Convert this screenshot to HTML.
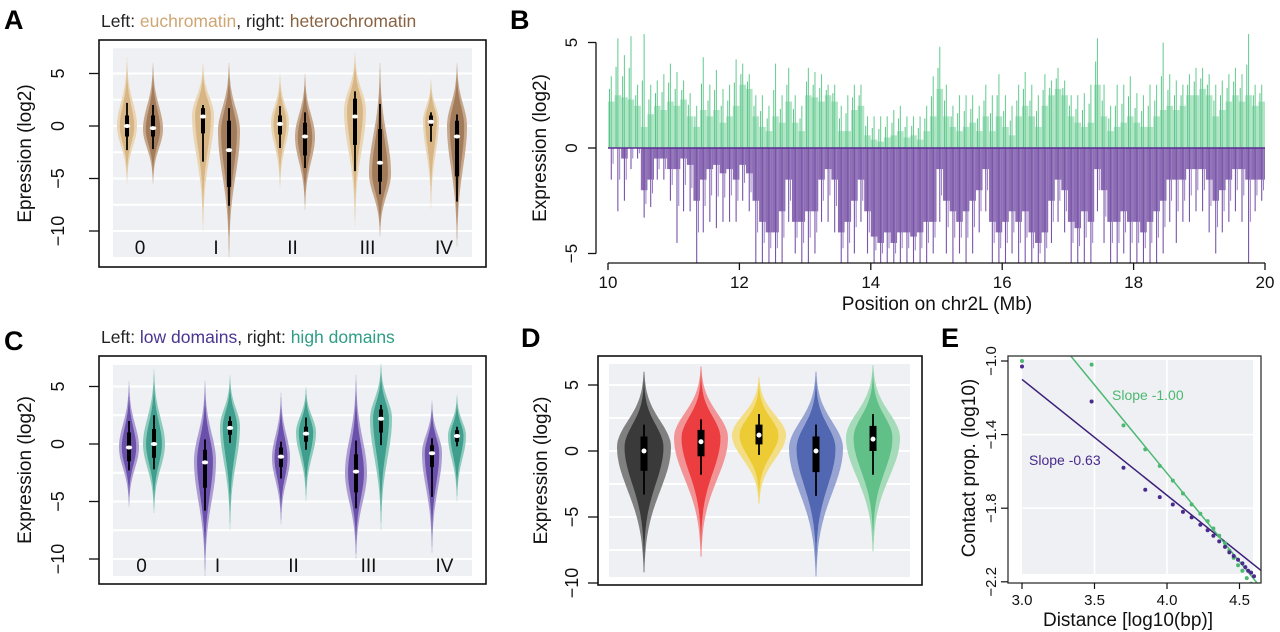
<!DOCTYPE html>
<html><head><meta charset="utf-8"><style>
html,body{margin:0;padding:0;background:#fff;}
svg{display:block;font-family:"Liberation Sans",sans-serif;}
</style></head><body>
<svg id="fig" width="1280" height="632" viewBox="0 0 1280 632" xmlns="http://www.w3.org/2000/svg">
<text x="4" y="29" font-size="27" font-weight="bold">A</text>
<text x="510" y="29" font-size="27" font-weight="bold">B</text>
<text x="4" y="350" font-size="27" font-weight="bold">C</text>
<text x="521" y="347" font-size="27" font-weight="bold">D</text>
<text x="941" y="347" font-size="27" font-weight="bold">E</text>
<text x="101" y="27" font-size="17.5" fill="#222">Left: <tspan fill="#cfa673">euchromatin</tspan>, right: <tspan fill="#8a6242">heterochromatin</tspan></text>
<text x="101" y="343" font-size="17.5" fill="#222">Left: <tspan fill="#4a3590">low domains</tspan>, right: <tspan fill="#2f9e86">high domains</tspan></text>
<g id="layer"></g>
</svg>
<script>
// ---------- Panel A data ----------
const aGroups = ["0","I","II","III","IV"];
const aLo   = [-5.5,-5.5,-10,-12.5,-6,-8,-9.5,-10.5,-8,-11.5];
const aHi   = [6.5,6,6,6,5,5,7,6,4.5,6];
const aMode = [0,-0.3,1,-0.5,0.3,-1,1.5,-4.5,0.5,0];
const aMed  = [0,-0.2,0.9,-2.3,0.2,-1,0.9,-3.5,0.4,-1];
const aQ1   = [-1,-1,-0.7,-5.8,-0.8,-2.8,-1.8,-5.3,0,-4.8];
const aQ3   = [1,1,1.7,0.5,1,0.3,2.6,-0.3,1,0.5];
const aWLo  = [-2.3,-2.2,-3.4,-7.6,-2.1,-4,-4.3,-6.5,-1.5,-7.2];
const aWHi  = [2.2,2,2,1.7,1.9,1.3,3.3,2.1,1.3,1.1];
const aYTicks = [5,0,-5,-10];
// ---------- Panel C data ----------
const cGroups = ["0","I","II","III","IV"];
const cLo   = [-5.5,-6,-11.5,-7.5,-7,-5,-10,-7.5,-9.5,-5];
const cHi   = [5.5,6.5,5.5,6,4.5,5,6,7,3.8,4.3];
const cMode = [-0.3,0,-1.5,1.5,-1.2,1,-2.5,2.2,-0.8,0.7];
const cMed  = [-0.3,0,-1.6,1.4,-1.1,0.9,-2.4,2.2,-0.8,0.7];
const cQ1   = [-1.5,-1.2,-3.8,0.8,-2,0.2,-4.2,1,-2,0.2];
const cQ3   = [1,1.3,-0.5,2,-0.3,1.5,-0.9,3,-0.1,1.2];
const cWLo  = [-2.3,-2.2,-5.8,0.1,-3,-0.5,-5.6,-0.1,-4.6,-0.2];
const cWHi  = [2,2.5,0.4,2.4,0.2,2.3,0.3,3.4,0.5,1.5];
// ---------- Panel D data ----------
const dLo   = [-9.2,-8,-4,-9.5,-7.6];
const dHi   = [6,6.4,5.6,6,6.5];
const dMode = [0.3,1,1.2,0.2,1];
const dMed  = [0,0.7,1.2,0,0.9];
const dQ1   = [-1.5,-0.4,0.5,-1.6,0];
const dQ3   = [1.1,1.6,2,1.1,1.9];
const dWLo  = [-3.3,-1.8,-0.3,-3.4,-1.8];
const dWHi  = [2,2.4,2.8,2,2.8];
// ---------- Panel B data (bins of 0.1 Mb from 10 to 20) ----------
const bStart = 10, bBin = 0.1;
const gBody = [2.2,2.5,2.4,2.3,2.0,1.0,1.6,2.0,1.8,2.2,2.0,2.3,1.5,1.0,1.8,1.5,1.8,1.2,1.5,2.0,3.0,2.8,1.5,1.0,0.8,1.5,1.2,2.2,1.2,0.8,2.5,2.4,2.2,2.5,2.2,0.8,0.8,1.8,2.0,0.6,0.4,0.3,0.5,0.6,0.8,0.5,0.6,0.4,0.8,1.5,2.8,1.5,1.0,0.8,1.0,1.2,0.8,1.5,0.8,1.5,1.0,0.6,1.5,2.0,1.5,1.0,2.0,2.5,2.8,2.5,1.5,1.2,1.0,1.2,3.0,1.5,0.8,1.0,1.2,1.5,1.2,1.0,1.0,1.5,1.8,2.0,1.8,2.0,2.5,2.5,2.8,2.5,1.5,1.8,2.2,2.5,2.2,2.5,2.0,2.2];
const gPeak = [3.4,5.2,4.4,5.3,3.0,5.4,3.0,3.2,3.5,4.0,3.6,3.2,2.6,2.0,4.3,3.0,3.7,2.8,3.0,4.2,4.0,3.5,2.5,2.5,2.0,4.0,2.5,3.8,2.5,2.0,3.8,3.6,3.5,3.0,3.0,2.0,2.5,3.0,3.0,1.5,1.5,1.5,1.5,1.8,2.0,1.5,1.5,1.5,2.0,3.4,4.8,3.0,2.0,2.5,2.5,2.5,2.0,3.0,2.5,3.5,2.5,2.0,3.0,3.6,3.0,2.5,3.5,3.2,3.8,3.2,2.5,2.5,2.6,3.0,5.2,3.0,2.0,3.0,3.0,3.4,2.6,2.5,3.0,3.0,5.0,3.5,3.2,3.0,3.5,3.8,3.8,3.5,3.0,3.2,3.5,3.8,3.5,5.4,3.0,3.0];
const pBody = [0,0,-0.5,0,0,-2.0,-1.5,-0.5,-0.5,-1.0,-1.0,-0.5,-0.8,-2.5,-1.5,-1.0,-0.8,-1.2,-1.0,-1.5,-0.8,-1.2,-2.5,-3.5,-4.0,-4.0,-3.0,-1.5,-3.5,-3.5,-3.0,-3.0,-1.5,-1.0,-1.5,-4.0,-3.5,-2.5,-1.5,-3.0,-4.2,-4.5,-4.0,-4.5,-4.0,-4.0,-4.2,-4.0,-3.5,-3.5,-1.0,-2.5,-3.0,-3.5,-3.0,-2.5,-2.0,-1.0,-3.5,-4.0,-3.5,-3.0,-3.5,-3.0,-4.0,-4.5,-4.0,-2.5,-1.5,-2.0,-3.5,-3.8,-3.0,-3.5,-1.0,-2.0,-3.5,-3.5,-3.0,-3.5,-3.5,-4.0,-3.5,-3.0,-2.5,-1.5,-1.5,-1.5,-1.0,-1.0,-1.0,-1.5,-2.5,-2.0,-1.5,-1.0,-1.0,-1.5,-1.5,-1.5];
const pPeak = [-1.5,-3.0,-2.5,-1.0,-0.5,-3.3,-2.8,-1.5,-1.5,-2.5,-4.5,-3.0,-3.0,-5.5,-4.0,-3.5,-3.8,-3.5,-3.5,-3.5,-2.5,-3.0,-5.5,-5.5,-5.5,-5.5,-5.5,-3.5,-5.0,-5.5,-5.5,-5.0,-3.5,-3.5,-4.0,-5.5,-5.5,-5.0,-3.5,-5.0,-5.5,-5.5,-5.5,-5.5,-5.5,-5.5,-5.5,-5.5,-5.5,-5.0,-3.5,-5.0,-5.5,-5.0,-5.5,-5.0,-4.0,-3.0,-5.5,-5.5,-5.5,-5.0,-5.5,-5.5,-5.5,-5.5,-5.5,-4.5,-3.5,-4.0,-5.5,-5.5,-5.5,-5.5,-3.0,-4.5,-5.5,-5.5,-5.0,-5.5,-5.5,-5.5,-5.5,-5.5,-5.0,-3.5,-4.5,-3.5,-3.5,-3.0,-3.0,-4.0,-5.0,-4.0,-3.5,-3.0,-3.5,-5.5,-3.0,-2.5];
const bXTicks = [10,12,14,16,18,20];
const bYTicks = [5,0,-5];
// ---------- Panel E data ----------
const ePurpleX = [3.0,3.48,3.7,3.85,3.95,4.04,4.11,4.17,4.23,4.28,4.32,4.36,4.40,4.43,4.46,4.49,4.52,4.54,4.56,4.58,4.60];
const ePurpleY = [-1.03,-1.22,-1.58,-1.70,-1.74,-1.78,-1.82,-1.85,-1.89,-1.92,-1.95,-1.98,-2.01,-2.04,-2.06,-2.08,-2.10,-2.12,-2.14,-2.15,-2.17];
const eGreenX = [3.0,3.48,3.7,3.85,3.95,4.04,4.11,4.17,4.23,4.28,4.32,4.36,4.40,4.43,4.46,4.49,4.52,4.55,4.58];
const eGreenY = [-1.0,-1.02,-1.35,-1.48,-1.57,-1.65,-1.72,-1.78,-1.83,-1.87,-1.91,-1.95,-1.99,-2.03,-2.07,-2.11,-2.14,-2.18,-2.21];
const eFitPurple = [-1.10,-0.63]; // intercept at x=3, slope
const eFitGreen = [-0.65,-0.96];  // intercept at x=3, slope
const eXTicks = ["3.0","3.5","4.0","4.5"];
const eYTicks = ["-1.0","-1.4","-1.8","-2.2"];

const NS="http://www.w3.org/2000/svg";
const layer=document.getElementById('layer');
function el(tag,attrs,parent){const e=document.createElementNS(NS,tag);for(const k in attrs)e.setAttribute(k,attrs[k]);(parent||layer).appendChild(e);return e;}
function txt(s,x,y,size,attrs,parent){const t=el('text',Object.assign({x:x,y:y,'font-size':size,fill:'#222'},attrs||{}),parent);t.textContent=s;return t;}
const minus=s=>String(s).replace('-','\u2212');

function violin(g,cx,ys,lo,hi,mode,hw,outer,inner,med,q1,q3,wlo,whi,boxW,dotStyle){
  function pathFor(h,sf){
    const pts=[];const n=90;
    for(let i=0;i<=n;i++){const v=lo+(hi-lo)*i/n;const s=((v>mode)?(hi-mode):(mode-lo))/2.9*sf;const w=h*Math.exp(-0.5*Math.pow((v-mode)/s,2));pts.push([v,w]);}
    let d='';pts.forEach((p,i)=>{d+=(i?'L':'M')+(cx+p[1]).toFixed(1)+','+ys(p[0]).toFixed(1);});
    for(let i=pts.length-1;i>=0;i--){d+='L'+(cx-pts[i][1]).toFixed(1)+','+ys(pts[i][0]).toFixed(1);}
    return d+'Z';
  }
  const o=el('path',{d:pathFor(hw,1),fill:outer},g);
  
  
  const i=el('path',{d:pathFor(hw*0.72,0.85),fill:inner},g);
  
  
  const w=el('line',{x1:cx,x2:cx,y1:ys(wlo),y2:ys(whi),stroke:'#000','stroke-width':1.8},g);
  
  
  const b=el('rect',{x:cx-boxW/2,width:boxW,y:ys(q3),height:ys(q1)-ys(q3),fill:'#000'},g);
  
  
  const m=el('ellipse',{cx:cx,cy:ys(med),rx:dotStyle[0],ry:dotStyle[1],fill:'#fff'},g);
  
  
}

function violinPanel(name,frame,bg,ys,gridVals,ticks,centers,groups,lo,hi,mode,med,q1,q3,wlo,whi,hw,colors,labelY,ytitle,ytitleX,tickLabelX){
  const g=el('g',{});
  
  
  const r=el('rect',{x:bg[0],y:bg[1],width:bg[2]-bg[0],height:bg[3]-bg[1],fill:'#eef0f3'},g);
  
  
  gridVals.forEach(v=>{const l=el('line',{x1:bg[0],x2:bg[2],y1:ys(v),y2:ys(v),stroke:'#fff','stroke-width':2},g);
    
    });
  centers.forEach((cx,k)=>{const c=colors[k];violin(g,cx,ys,lo[k],hi[k],mode[k],hw[k],c[0],c[1],med[k],q1[k],q3[k],wlo[k],whi[k],hw[k]>20?7:4,hw[k]>20?[2.5,2.5]:[3.2,2]);});
  if(groups){groups.forEach((s,k)=>{const t=txt(s,(centers[2*k]+centers[2*k+1])/2,labelY,19,{'text-anchor':'middle',fill:'#111'},g);
    
    });}
  const f=el('rect',{x:frame[0],y:frame[1],width:frame[2]-frame[0],height:frame[3]-frame[1],fill:'none',stroke:'#111','stroke-width':1.6},g);
  
  
  ticks.forEach(v=>{const l=el('line',{x1:frame[0]-10,x2:frame[0],y1:ys(v),y2:ys(v),stroke:'#111','stroke-width':1.3},g);
    
    
    const t=txt(minus(v),tickLabelX,ys(v),18,{'text-anchor':'middle',transform:`rotate(-90 ${tickLabelX} ${ys(v)})`,fill:'#111'},g);
    
    });
  const cy=(frame[1]+frame[3])/2;
  const yt=txt(ytitle,ytitleX,cy,19,{'text-anchor':'middle',transform:`rotate(-90 ${ytitleX} ${cy})`,fill:'#111'},g);
  
  
}
const grid=[7.5,5,2.5,0,-2.5,-5,-7.5,-10];
// Panel A
const ysA=v=>126-v*10.5;
const colA=[];for(let k=0;k<10;k++)colA.push(k%2?['#c6a78b','#a27b5b']:['#ead5b5','#d8b585']);
violinPanel('panel-a-violins',[99,40,486,267],[113,48,472,257],ysA,grid,aYTicks,[127,153,203,229,280,305,355,380,431,457],aGroups,aLo,aHi,aMode,aMed,aQ1,aQ3,aWLo,aWHi,[10,10,11,11,9,10,11,11,8,10],colA,254,'Epression (log2)',31,64);
// Panel C
const ysC=v=>444-v*11.5;
const colC=[];for(let k=0;k<10;k++)colC.push(k%2?['#8ccabc','#3f9e8d']:['#ab9dd2','#6a50aa']);
violinPanel('panel-c-violins',[99,356,486,584],[113,365,472,576],ysC,grid,aYTicks,[129,154,205,230,281,306,356,381,432,457],cGroups,cLo,cHi,cMode,cMed,cQ1,cQ3,cWLo,cWHi,[10,11,11,10,9,10,11,11,10,9],colC,572,'Expression (log2)',31,64);
// Panel D
const ysD=v=>451-v*13.2;
const colD=[['#808080','#3a3a3a'],['#f29496','#ec3d40'],['#f3de86','#eccb35'],['#96a3d3','#5267b1'],['#a5dbb9','#60c088']];
violinPanel('panel-d-violins',[598,356,922,585],[609,364,910,577],ysD,grid,aYTicks,[644,701,759,816,873],null,dLo,dHi,dMode,dMed,dQ1,dQ3,dWLo,dWHi,[27,27,27,27,27],colD,0,'Expression (log2)',547,578);

// Panel B
(function(){
  const g=el('g',{});
  
  
  const xs=x=>608+(x-10)*65.7;
  const ys=v=>148-v*21.1;
  const clip=el('clipPath',{id:'bclip'},g);
  el('rect',{x:600,y:30,width:670,height:233},clip);
  const bars=el('g',{'clip-path':'url(#bclip)'},g);
  const bw=bBin*65.7;
  gBody.forEach((v,i)=>{const x0=xs(bStart+i*bBin);
    const r=el('rect',{x:x0,width:bw,y:ys(v),height:ys(0)-ys(v),fill:'#6fcf97','fill-opacity':0.55},bars);
    
    
    const p=el('line',{x1:x0+bw/2,x2:x0+bw/2,y1:ys(0),y2:ys(gPeak[i]),stroke:'#6fcf97','stroke-width':1.1},bars);
    
    
    const p2=el('line',{x1:x0+1.5,x2:x0+1.5,y1:ys(0),y2:ys((gPeak[i]+v)/2),stroke:'#5cc58a','stroke-width':1},bars);
    
    });
  pBody.forEach((v,i)=>{const x0=xs(bStart+i*bBin);
    const r=el('rect',{x:x0,width:bw,y:ys(0),height:ys(v)-ys(0),fill:'#5b2e92','fill-opacity':0.7},bars);
    
    
    const p=el('line',{x1:x0+bw/2,x2:x0+bw/2,y1:ys(0),y2:ys(pPeak[i]),stroke:'#7a54aa','stroke-width':1.1},bars);
    
    
    const p2=el('line',{x1:x0+bw-1.5,x2:x0+bw-1.5,y1:ys(0),y2:ys((pPeak[i]+v)/2),stroke:'#9a7fc3','stroke-width':1},bars);
    
    });
  const zl=el('line',{x1:608,x2:1265,y1:ys(0),y2:ys(0),stroke:'#5b2e92','stroke-width':1.5},g);
  
  
  const ya=el('line',{x1:596,x2:596,y1:ys(5),y2:ys(-5),stroke:'#111','stroke-width':1.3},g);
  
  
  const xa=el('line',{x1:xs(10),x2:xs(20),y1:263,y2:263,stroke:'#111','stroke-width':1.3},g);
  
  
  bYTicks.forEach(v=>{const l=el('line',{x1:588,x2:596,y1:ys(v),y2:ys(v),stroke:'#111','stroke-width':1.3},g);
    
    
    const t=txt(minus(v),577,ys(v),17,{'text-anchor':'middle',transform:`rotate(-90 577 ${ys(v)})`,fill:'#111'},g);
    
    });
  bXTicks.forEach(v=>{const l=el('line',{x1:xs(v),x2:xs(v),y1:263,y2:270,stroke:'#111','stroke-width':1.3},g);
    
    
    const t=txt(String(v),xs(v),288,17,{'text-anchor':'middle',fill:'#111'},g);
    
    });
  const xt=txt('Position on chr2L (Mb)',937,310,19,{'text-anchor':'middle',fill:'#111'},g);
  
  
  const yt=txt('Expression (log2)',546,148,19,{'text-anchor':'middle',transform:'rotate(-90 546 148)',fill:'#111'},g);
  
  
})();

// Panel E
(function(){
  const g=el('g',{});
  
  
  const xs=x=>1022+(x-3)*145;
  const ys=v=>361+(-1-v)*184;
  const bg=el('rect',{x:1022,y:360,width:231,height:214,fill:'#eef0f3'},g);
  
  
  [-1.4,-1.8].forEach(v=>{const l=el('line',{x1:1022,x2:1253,y1:ys(v),y2:ys(v),stroke:'#fff','stroke-width':1.5},g);
    
    });
  [3.5,4.0].forEach(v=>{const l=el('line',{x1:xs(v),x2:xs(v),y1:360,y2:574,stroke:'#fff','stroke-width':1.5},g);
    
    });
  const clip=el('clipPath',{id:'eclip'},g);
  el('rect',{x:1008,y:356,width:253,height:227},clip);
  const inner=el('g',{'clip-path':'url(#eclip)'},g);
  const pl=el('line',{x1:xs(3),y1:ys(eFitPurple[0]),x2:xs(4.65),y2:ys(eFitPurple[0]+eFitPurple[1]*1.65),stroke:'#3d1f7a','stroke-width':1.5},inner);
  
  
  const gl=el('line',{x1:xs(3),y1:ys(eFitGreen[0]),x2:xs(4.65),y2:ys(eFitGreen[0]+eFitGreen[1]*1.65),stroke:'#4cb872','stroke-width':1.5},inner);
  
  
  eGreenX.forEach((x,i)=>{const c=el('circle',{cx:xs(x),cy:ys(eGreenY[i]),r:2,fill:'#4cb872'},inner);
    
    });
  ePurpleX.forEach((x,i)=>{const c=el('circle',{cx:xs(x),cy:ys(ePurpleY[i]),r:2,fill:'#4a2a8c'},inner);
    
    });
  const f=el('rect',{x:1008,y:356,width:253,height:227,fill:'none',stroke:'#333','stroke-width':1.3},g);
  
  
  eYTicks.forEach(s=>{const v=parseFloat(s);
    const l=el('line',{x1:1001,x2:1008,y1:ys(v),y2:ys(v),stroke:'#111','stroke-width':1.2},g);
    
    
    const t=txt(minus(s),996,ys(v),15,{'text-anchor':'middle',transform:`rotate(-90 996 ${ys(v)})`,fill:'#111'},g);
    
    });
  eXTicks.forEach(s=>{const v=parseFloat(s);
    const l=el('line',{x1:xs(v),x2:xs(v),y1:583,y2:589,stroke:'#111','stroke-width':1.2},g);
    
    
    const t=txt(s,xs(v),605,15,{'text-anchor':'middle',fill:'#111'},g);
    
    });
  const sg=txt('Slope -1.00',1112,400,14,{fill:'#4cb872'},g);
  
  
  const sp=txt('Slope -0.63',1029,465,14,{fill:'#4a2a8c'},g);
  
  
  const xt=txt('Distance [log10(bp)]',1128,626,19,{'text-anchor':'middle',fill:'#111'},g);
  
  
  const yt=txt('Contact prop. (log10)',975,468,19,{'text-anchor':'middle',transform:'rotate(-90 975 468)',fill:'#111'},g);
  
  
})();
</script>
</body></html>
